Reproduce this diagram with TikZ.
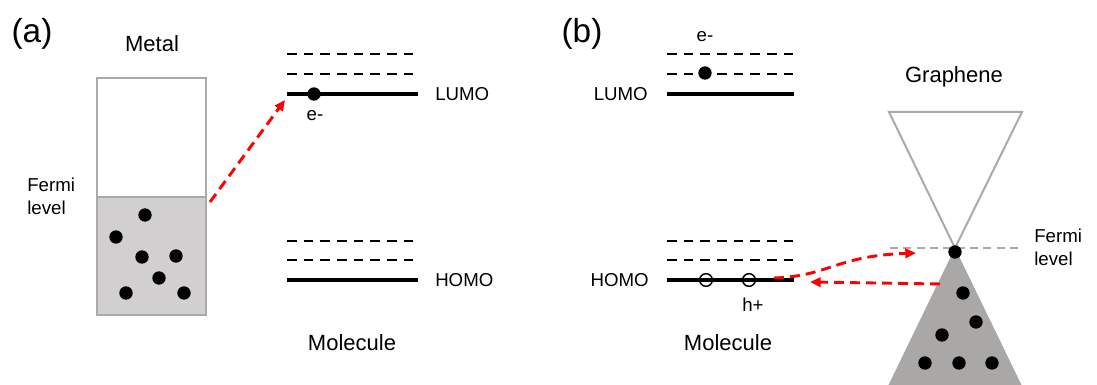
\documentclass[tikz,border=0pt]{standalone}
\usepackage{fontspec}
\setmainfont{Liberation Sans}
\usetikzlibrary{arrows.meta}
\definecolor{boxgray}{HTML}{AAAAAA}
\definecolor{fillgray}{HTML}{D1CFD0}
\definecolor{conegray}{HTML}{AAA7A7}
\definecolor{arrred}{HTML}{FF0000}
\tikzset{
  lvl/.style={line width=2.3pt,black},
  virt/.style={line width=1.9pt,black,dash pattern=on 7.2pt off 5.3pt},
  edot/.style={circle,fill=black,inner sep=0pt,minimum size=10pt},
  hdot/.style={circle,draw=black,line width=1.1pt,inner sep=0pt,minimum size=9.5pt},
  outl/.style={draw=boxgray,line width=1.5pt},
  redarr/.style={draw=arrred,line width=2.2pt,dash pattern=on 7.5pt off 4.5pt,-{Triangle[length=8pt,width=7pt]}},
  lbl/.style={inner sep=0pt,font=\fontsize{14}{17}\selectfont},
  big/.style={inner sep=0pt,font=\fontsize{16.5}{19}\selectfont},
  panel/.style={inner sep=0pt,font=\fontsize{25}{28}\selectfont},
}
\begin{document}
\begin{tikzpicture}[x=0.75pt,y=-0.75pt]
\useasboundingbox (0,0) rectangle (1097,385);
% ---------- panel (a) ----------
\node[panel] (pa) at (32,34) {(a)};
\node[big] (metallbl) at (152,44) {Metal};
\fill[fillgray] (97,197) rectangle (206,315);
\draw[outl] (97,78) rectangle (206,315);
\draw[outl] (97,197) -- (206,197);
\coordinate (metaltop) at (210,202);
\node[lbl,align=left,anchor=west] (fermia) at (27,196) {Fermi\\level};
\foreach \n/\x/\y in {m1/145/215,m2/116/237,m3/142/257,m4/176/256,m5/159/278,m6/126/293,m7/184/293}
  \node[edot] (\n) at (\x,\y) {};
% levels (a)
\draw[virt] (287,54) -- (414,54);
\draw[virt] (287,74) -- (414,74);
\draw[lvl] (287,94) -- (418,94);
\draw[virt] (287,241) -- (414,241);
\draw[virt] (287,260) -- (414,260);
\draw[lvl] (287,280) -- (418,280);
\node[edot] (ea) at (314,94) {};
\node[lbl] (ealbl) at (315,116) {e-};
\node[lbl,anchor=west] (lumoa) at (435,94) {LUMO};
\node[lbl,anchor=west] (homoa) at (435,280) {HOMO};
\node[big] (mola) at (352,343) {Molecule};
\coordinate (lumotarget) at (285,100);
\draw[redarr] (metaltop) -- (lumotarget);
% ---------- panel (b) ----------
\node[panel] (pb) at (582,34) {(b)};
\draw[virt] (667,54) -- (794,54);
\draw[virt] (667,74) -- (794,74);
\draw[lvl] (667,94) -- (794,94);
\draw[virt] (667,241) -- (794,241);
\draw[virt] (667,260) -- (794,260);
\draw[lvl] (667,280) -- (794,280);
\node[edot] (eb) at (705,73) {};
\node[lbl] (eblbl) at (705,37) {e-};
\node[lbl,anchor=east] (lumob) at (648,94) {LUMO};
\node[lbl,anchor=east] (homob) at (649,280) {HOMO};
\node[hdot] (h1) at (706,280) {};
\node[hdot] (h2) at (749,280) {};
\node[lbl] (hlbl) at (753,305) {h+};
\node[big] (molb) at (728,343) {Molecule};
% graphene
\node[big] (graphene) at (954,77) {Graphene};
\fill[conegray] (955,248) -- (1022,386) -- (888,386) -- cycle;
\draw[outl,fill=white] (889,112) -- (1022,112) -- (955,248) -- cycle;
\draw[draw=boxgray,line width=1.5pt,dash pattern=on 6pt off 4pt] (890,248) -- (1022,248);
\node[edot] (dirac) at (955,252) {};
\foreach \n/\x/\y in {g1/963/293,g2/976/322,g3/942/335,g4/925/363,g5/959/363,g6/992/363}
  \node[edot] (\n) at (\x,\y) {};
\node[lbl,align=left,anchor=west] (fermib) at (1034,247) {Fermi\\level};
% arrows (b)
\coordinate (hstart) at (774,278);
\coordinate (fend) at (916,253);
\coordinate (cstart) at (940,284);
\coordinate (hend) at (810,282);
\draw[redarr] (hstart) .. controls (830,276) and (835,256) .. (fend);
\draw[redarr] (cstart) -- (hend);
\end{tikzpicture}
\end{document}
